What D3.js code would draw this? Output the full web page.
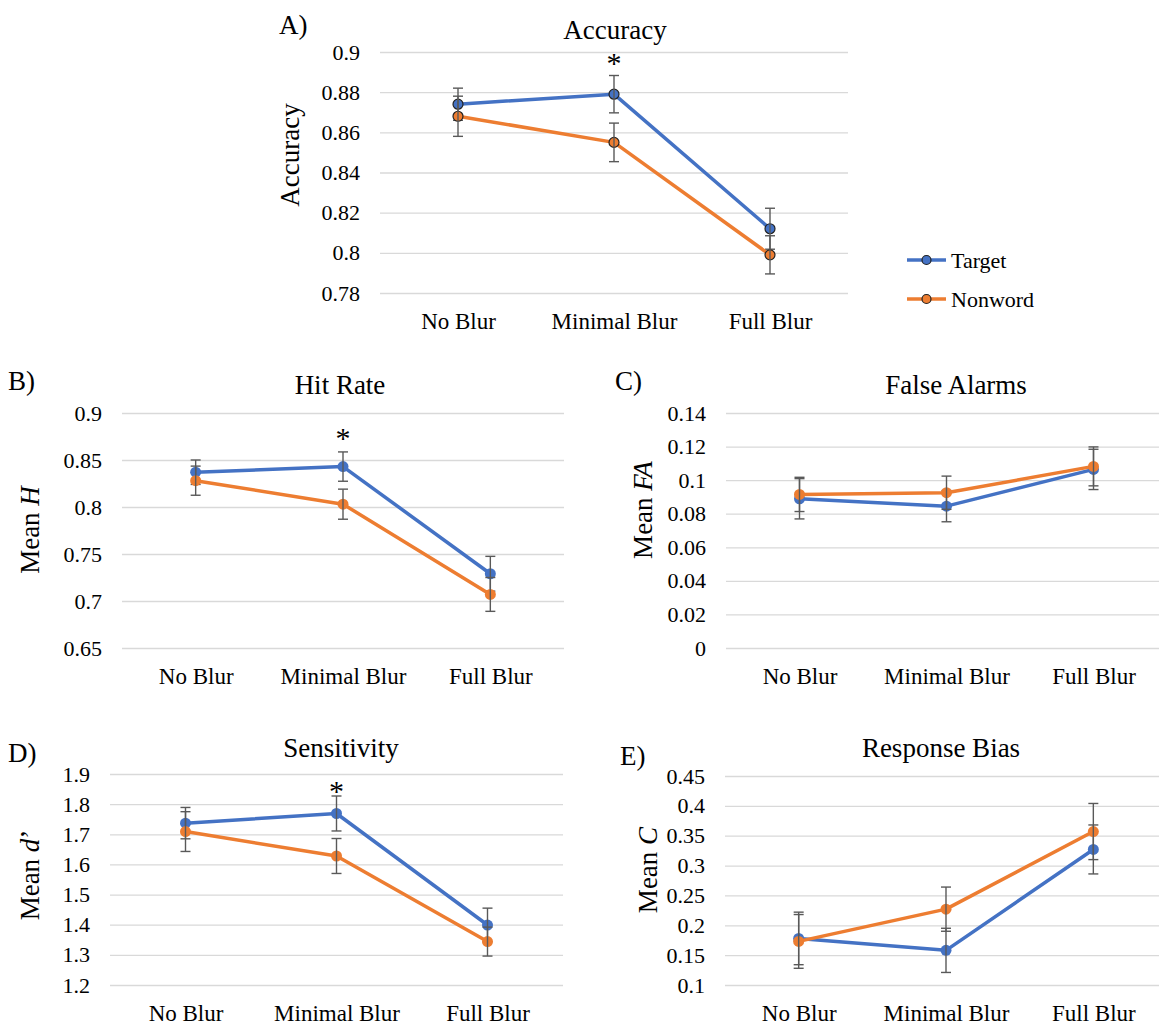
<!DOCTYPE html>
<html lang="en">
<head>
<meta charset="utf-8">
<title>Blur conditions</title>
<script src="https://d3js.org/d3.v7.min.js"></script>
<style>
  body { margin: 0; background: #fff; }
  svg text { font-family: "Liberation Serif", "Times New Roman", serif; fill: #000; }
</style>
</head>
<body>
<div id="chart"></div>
<script>
// categories and series
var categories = ["No Blur", "Minimal Blur", "Full Blur"];
var seriesNames = ["Target", "Nonword"];
var seriesColors = ["#4472C4", "#ED7D31"];

// A) Accuracy
var accTarget = [0.874, 0.879, 0.812];
var accTargetErr = [0.008, 0.0093, 0.0102];
var accNonword = [0.868, 0.855, 0.799];
var accNonwordErr = [0.010, 0.0096, 0.0095];
var accTicks = [0.78, 0.8, 0.82, 0.84, 0.86, 0.88, 0.9];

// B) Hit rate
var hitTarget = [0.837, 0.843, 0.729];
var hitTargetErr = [0.013, 0.0156, 0.0185];
var hitNonword = [0.828, 0.803, 0.707];
var hitNonwordErr = [0.0155, 0.016, 0.018];
var hitTicks = [0.65, 0.7, 0.75, 0.8, 0.85, 0.9];

// C) False alarms
var faTarget = [0.0889, 0.0845, 0.1064];
var faTargetErr = [0.012, 0.0093, 0.012];
var faNonword = [0.0915, 0.0925, 0.1082];
var faNonwordErr = [0.0102, 0.0099, 0.0116];
var faTicks = [0, 0.02, 0.04, 0.06, 0.08, 0.1, 0.12, 0.14];

// D) Sensitivity
var dTarget = [1.737, 1.769, 1.399];
var dTargetErr = [0.052, 0.058, 0.056];
var dNonword = [1.709, 1.628, 1.344];
var dNonwordErr = [0.066, 0.058, 0.048];
var dTicks = [1.2, 1.3, 1.4, 1.5, 1.6, 1.7, 1.8, 1.9];

// E) Response bias
var cTarget = [0.178, 0.158, 0.327];
var cTargetErr = [0.044, 0.037, 0.041];
var cNonword = [0.173, 0.227, 0.357];
var cNonwordErr = [0.045, 0.037, 0.047];
var cTicks = [0.1, 0.15, 0.2, 0.25, 0.3, 0.35, 0.4, 0.45];

var FONT = '"Liberation Serif", "Times New Roman", serif';

var svg = d3.select("#chart").append("svg")
    .attr("width", 1159)
    .attr("height", 1024)
    .attr("font-family", FONT);

// panel layouts
var panels = [
  { letter: "A)", letterX: 279, letterY: 34, title: "Accuracy", titleX: 615, titleY: 39,
    yLabel: [["Accuracy", false]], yLabelX: 290, yLabelY: 155,
    left: 380, right: 848, top: 52, bottom: 293, ticks: accTicks,
    values: [accTarget, accNonword], errs: [accTargetErr, accNonwordErr],
    outline: true, star: 62 },
  { letter: "B)", letterX: 8, letterY: 390, title: "Hit Rate", titleX: 340, titleY: 394,
    yLabel: [["Mean ", false], ["H", true]], yLabelX: 30, yLabelY: 530,
    left: 122, right: 564, top: 413, bottom: 648, ticks: hitTicks,
    values: [hitTarget, hitNonword], errs: [hitTargetErr, hitNonwordErr],
    outline: false, star: 437 },
  { letter: "C)", letterX: 615, letterY: 390, title: "False Alarms", titleX: 956, titleY: 394,
    yLabel: [["Mean ", false], ["FA", true]], yLabelX: 643, yLabelY: 510,
    left: 726, right: 1167, top: 413, bottom: 648, ticks: faTicks,
    values: [faTarget, faNonword], errs: [faTargetErr, faNonwordErr],
    outline: false, star: null },
  { letter: "D)", letterX: 8, letterY: 762, title: "Sensitivity", titleX: 341, titleY: 757,
    yLabel: [["Mean ", false], ["d", true], ["\u2019", false]], yLabelX: 30, yLabelY: 875,
    left: 110, right: 563, top: 774, bottom: 985, ticks: dTicks,
    values: [dTarget, dNonword], errs: [dTargetErr, dNonwordErr],
    outline: false, star: 790 },
  { letter: "E)", letterX: 620, letterY: 765, title: "Response Bias", titleX: 941, titleY: 757,
    yLabel: [["Mean ", false], ["C", true]], yLabelX: 648, yLabelY: 870,
    left: 725, right: 1167, top: 776, bottom: 985, ticks: cTicks,
    values: [cTarget, cNonword], errs: [cTargetErr, cNonwordErr],
    outline: false, star: null }
];

function fmt(d) { return String(+d.toFixed(3)); }

function drawPanel(p) {
  var g = svg.append("g");

  var x = d3.scalePoint()
    .domain(categories)
    .range([p.left, p.right])
    .padding(0.5);

  var y = d3.scaleLinear()
    .domain([p.ticks[0], p.ticks[p.ticks.length - 1]])
    .range([p.bottom, p.top]);

  // gridlines + y tick labels
  var yAxis = g.append("g")
    .attr("transform", "translate(" + p.left + ",0)")
    .call(d3.axisLeft(y).tickValues(p.ticks).tickSize(-(p.right - p.left)).tickPadding(20).tickFormat(fmt));
  yAxis.attr("font-family", FONT);
  yAxis.select(".domain").remove();
  yAxis.selectAll(".tick line").attr("stroke", "#d9d9d9").attr("stroke-width", 1.3);
  yAxis.selectAll(".tick text").style("font-size", "22px");

  // x labels
  var xAxis = g.append("g")
    .attr("transform", "translate(0," + p.bottom + ")")
    .call(d3.axisBottom(x).tickSize(0).tickPadding(20));
  xAxis.attr("font-family", FONT);
  xAxis.select(".domain").remove();
  xAxis.selectAll(".tick text").style("font-size", "23px");

  // title + panel letter
  g.append("text")
    .attr("x", p.titleX).attr("y", p.titleY)
    .attr("text-anchor", "middle")
    .style("font-size", "27px")
    .text(p.title);
  g.append("text")
    .attr("x", p.letterX).attr("y", p.letterY)
    .style("font-size", "27px")
    .text(p.letter);

  // y axis label
  var yl = g.append("text")
    .attr("transform", "translate(" + p.yLabelX + "," + p.yLabelY + ") rotate(-90)")
    .attr("text-anchor", "middle")
    .attr("dominant-baseline", "central")
    .style("font-size", "27px");
  p.yLabel.forEach(function(part) {
    yl.append("tspan").text(part[0]).style("font-style", part[1] ? "italic" : "normal");
  });

  // series
  var line = d3.line()
    .x(function(d, i) { return x(categories[i]); })
    .y(function(d) { return y(d); });

  p.values.forEach(function(vals, s) {
    g.append("path")
      .datum(vals)
      .attr("d", line)
      .attr("fill", "none")
      .attr("stroke", seriesColors[s])
      .attr("stroke-width", 3.5)
      .attr("stroke-linejoin", "round");

    g.selectAll(".pt" + s)
      .data(vals)
      .enter().append("circle")
      .attr("cx", function(d, i) { return x(categories[i]); })
      .attr("cy", function(d) { return y(d); })
      .attr("r", p.outline ? 5 : 5.5)
      .attr("fill", seriesColors[s])
      .attr("stroke", p.outline ? "#222" : "none")
      .attr("stroke-width", 1.2);

    var errs = p.errs[s];
    var eb = g.selectAll(".eb" + s)
      .data(vals)
      .enter().append("g")
      .attr("stroke", "#595959")
      .attr("stroke-width", 1.4);
    eb.append("line")
      .attr("x1", function(d, i) { return x(categories[i]); })
      .attr("x2", function(d, i) { return x(categories[i]); })
      .attr("y1", function(d, i) { return y(d - errs[i]); })
      .attr("y2", function(d, i) { return y(d + errs[i]); });
    eb.append("line")
      .attr("x1", function(d, i) { return x(categories[i]) - 5; })
      .attr("x2", function(d, i) { return x(categories[i]) + 5; })
      .attr("y1", function(d, i) { return y(d + errs[i]); })
      .attr("y2", function(d, i) { return y(d + errs[i]); });
    eb.append("line")
      .attr("x1", function(d, i) { return x(categories[i]) - 5; })
      .attr("x2", function(d, i) { return x(categories[i]) + 5; })
      .attr("y1", function(d, i) { return y(d - errs[i]); })
      .attr("y2", function(d, i) { return y(d - errs[i]); });
  });

  // significance star over Minimal Blur
  if (p.star !== null) {
    g.append("text")
      .attr("x", x(categories[1])).attr("y", p.star)
      .attr("text-anchor", "middle")
      .attr("dominant-baseline", "central")
      .style("font-size", "30px")
      .text("*");
  }
}

panels.forEach(drawPanel);

// legend
var legendY = [260, 299];
seriesNames.forEach(function(name, s) {
  var lg = svg.append("g").attr("transform", "translate(0," + legendY[s] + ")");
  lg.append("line")
    .attr("x1", 907).attr("x2", 946)
    .attr("stroke", seriesColors[s]).attr("stroke-width", 3.5);
  lg.append("circle")
    .attr("cx", 926.5).attr("r", 4.5)
    .attr("fill", seriesColors[s]).attr("stroke", "#222").attr("stroke-width", 1.2);
  lg.append("text")
    .attr("x", 951).attr("dominant-baseline", "central")
    .style("font-size", "22px")
    .text(name);
});
</script>
</body>
</html>
